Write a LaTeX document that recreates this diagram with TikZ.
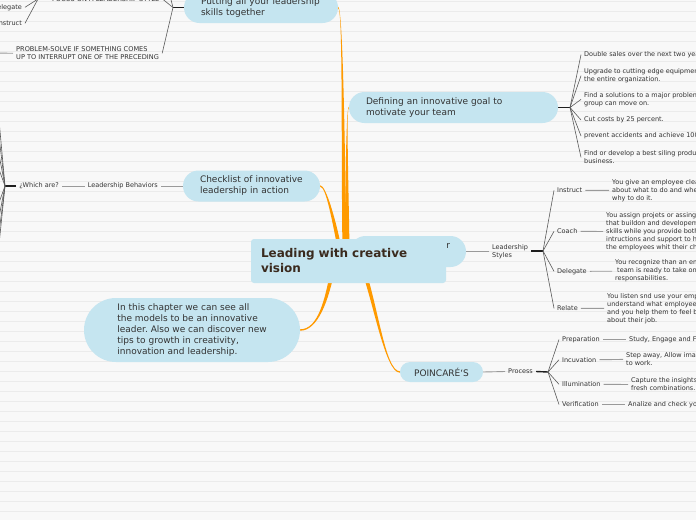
\documentclass[tikz,border=0pt]{standalone}
\usepackage{fontspec}
\setmainfont{DejaVu Sans}
\usetikzlibrary{calc}
\pgfdeclarelayer{back}
\pgfsetlayers{back,main}
\definecolor{pillblue}{HTML}{C5E5F0}
\definecolor{orangec}{HTML}{FF9A00}
\definecolor{txt}{HTML}{333333}
\definecolor{ctrtxt}{HTML}{3A2A1E}
\definecolor{bgc}{HTML}{F8F8F8}
\definecolor{rulec}{HTML}{EBEBEB}
\definecolor{grayln}{HTML}{9A9A9A}
\definecolor{fanln}{HTML}{5A5A5A}
\definecolor{thickln}{HTML}{1E1E1E}
\newcommand\orangelink[6]{\fill[orangec] ($#1+#5$) .. controls ($#2+#5$) and ($#3+#6$) .. ($#4+#6$) -- ($#4-#6$) .. controls ($#3-#6$) and ($#2-#5$) .. ($#1-#5$) -- cycle;}
\frenchspacing
\begin{document}
\frenchspacing
\begin{tikzpicture}[x=1pt,y=-1pt,
  pill/.style={fill=pillblue, draw=none, text=txt, font=\fontsize{9}{11}\selectfont\frenchspacing, align=left, inner ysep=0pt, inner xsep=17pt},
  lbl/.style={font=\fontsize{6.5}{8}\selectfont\frenchspacing, text=txt, inner xsep=3pt, inner ysep=1pt, align=left},
  caps/.style={lbl, font=\fontsize{6.6}{8}\selectfont},
  graylink/.style={draw=grayln, line width=0.9pt},
  fanlink/.style={draw=fanln, line width=0.6pt},
  thicklink/.style={draw=thickln, line width=1.4pt}]
\useasboundingbox (0,0) rectangle (696,520);

% ---------- main pills ----------
\node[pill, text width=120pt, minimum height=31pt, rounded corners=15.5pt] (put) at (261,7.5) {Putting all your leadership\\skills together};
\node[pill, text width=175pt, minimum height=31pt, rounded corners=15.5pt] (def) at (453.5,107.5) {Defining an innovative goal to\\motivate your team};
\node[pill, text width=103pt, minimum height=31pt, rounded corners=15.5pt] (chk) at (251.5,186) {Checklist of innovative\\leadership in action};
\node[pill, font=\fontsize{9}{11.2}\selectfont\frenchspacing, inner xsep=0pt, minimum width=216pt, minimum height=64pt, rounded corners=32pt] (chap) at (192,330) {In this chapter we can see all\\the models to be an innovative\\leader. Also we can discover new\\tips to growth in creativity,\\innovation and leadership.};
\node[pill, inner xsep=0pt, align=center, minimum width=83pt, minimum height=20pt, rounded corners=10pt] (poin) at (441.5,372) {POINCARÉ\char"60 S};
\node[pill, inner xsep=16pt, text width=84pt, align=right, minimum height=31pt, rounded corners=15.5pt] (rnode) at (408,251.5) {r\\\phantom{r}};
\node[fill=pillblue, draw=none, rounded corners=3pt, text=ctrtxt, font=\bfseries\fontsize{12}{15}\selectfont, align=left, inner xsep=10pt, inner ysep=0pt, text width=175pt, minimum height=44pt] (ctr) at (348.5,261) {Leading with creative\\vision};

% hub points under the central node
\coordinate (hub1) at ($(ctr)+(-4,-8)$);
\coordinate (hub2) at ($(ctr)+(-1,-8)$);
\coordinate (hub3) at ($(ctr)+(-8,-8)$);
\coordinate (hub4) at ($(ctr)+(-15.5,7)$);
\coordinate (hub5) at ($(ctr)+(13.5,5)$);

% ---------- top-left (Putting all...) ----------
\node[caps, anchor=west] (focus) at (49,-1) {FOCUS ON A LEADERSHIP STYLE};
\node[lbl, anchor=east] (deleg0) at (25,7.3) {Delegate};
\node[lbl, anchor=east] (instr0) at (25,23.3) {Instruct};
\node[caps, anchor=west] (prob) at (13,53.3) {PROBLEM-SOLVE IF SOMETHING COMES\\UP TO INTERRUPT ONE OF THE PRECEDING};
\coordinate (jput) at (173,7.5);
\coordinate (offtop) at (168,-12);
\coordinate (jfoc) at (38,-1);
\coordinate (probleft) at (-4,53);

% ---------- Defining children ----------
\coordinate (jdef) at (570,107.5);
\node[lbl, anchor=west] (d1) at (581,54.7) {Double sales over the next two years.};
\node[lbl, anchor=west] (d2) at (581,75.7) {Upgrade to cutting edge equipment for\\the entire organization.};
\node[lbl, anchor=west] (d3) at (581,99.4) {Find a solutions to a major problem so the\\group can move on.};
\node[lbl, anchor=west] (d4) at (581,120) {Cut costs by 25 percent.};
\node[lbl, anchor=west] (d5) at (581,136) {prevent accidents and achieve 100\% safety.};
\node[lbl, anchor=west] (d6) at (581,157.4) {Find or develop a best siling product for the\\business.};

% ---------- Leadership Styles ----------
\node[lbl, anchor=west] (lsty) at (489,251.5) {Leadership\\Styles};
\coordinate (jsty) at (543,251);
\node[lbl, anchor=west] (s1) at (554,190.3) {Instruct};
\node[lbl, anchor=west] (s2) at (554,231.3) {Coach};
\node[lbl, anchor=west] (s3) at (554,271.3) {Delegate};
\node[lbl, anchor=west] (s4) at (554,308.3) {Relate};
\node[lbl, anchor=west] (ds1) at (609,190.4) {You give an employee clear instructions\\about what to do and when and\\why to do it.};
\node[lbl, anchor=west] (ds2) at (603,231.5) {You assign projets or assingments\\that buildon and developement\\skills while you provide both\\intructions and support to help\\the employees whit their challenges.};
\node[lbl, anchor=west] (ds3) at (612,271.2) {You recognize than an employee or\\\hspace{2pt}team is ready to take on\\responsabilities.};
\node[lbl, anchor=west] (ds4) at (604,308.4) {You listen snd use your employees ideas\\understand what employees\\and you help them to feel better\\about their job.};

% ---------- Process ----------
\node[lbl, anchor=west] (proc) at (505,371.5) {Process};
\coordinate (jproc) at (548,372);
\node[lbl, anchor=west] (p1) at (559,339.5) {Preparation};
\node[lbl, anchor=west] (p2) at (559,359.7) {Incuvation};
\node[lbl, anchor=west] (p3) at (559,384.3) {Illumination};
\node[lbl, anchor=west] (p4) at (559,404.5) {Verification};
\node[lbl, anchor=west] (dp1) at (626,339.5) {Study, Engage and Focus};
\node[lbl, anchor=west] (dp2) at (623,359.4) {Step away, Allow imagination\\to work.};
\node[lbl, anchor=west] (dp3) at (628,384.5) {Capture the insights\\fresh combinations.};
\node[lbl, anchor=west] (dp4) at (625,404.5) {Analize and check your ideas};

% ---------- Checklist branch ----------
\node[lbl, anchor=east] (lbeh) at (161,186) {Leadership Behaviors};
\node[lbl, anchor=east] (which) at (62,186) {¿Which are?};
\coordinate (jwh) at (5,186);
\coordinate (w1) at (-8,43);
\coordinate (w2) at (-8,80);
\coordinate (w3) at (-8,118);
\coordinate (w4) at (-8,150);
\coordinate (w5) at (-8,222);
\coordinate (w6) at (-8,254);
\coordinate (w7) at (-8,287);
\coordinate (w8) at (-8,313);

\begin{pgfonlayer}{back}
  \fill[bgc] (0,0) rectangle (696,520);
  \foreach \k in {0,...,51} \draw[rulec, line width=0.7pt] (0,{10*\k+1}) -- (696,{10*\k+1});

  % orange main links
  \orangelink{(put.east)}{(343,9)}{(343,150)}{(hub1)}{(0,-0.7)}{(2,0)}
  \orangelink{(def.west)}{(346,108)}{(347,200)}{(hub2)}{(0,-0.7)}{(-2,0)}
  \orangelink{(chk.east)}{(326,186)}{(334,220)}{(hub3)}{(0,-0.7)}{(2,0)}
  \orangelink{(chap.east)}{(318,330)}{(327,300)}{(hub4)}{(0,0.7)}{(2,0)}
  \orangelink{(poin.west)}{(385,372)}{(375,300)}{(hub5)}{(0,0.7)}{(-2,0)}

  % top-left
  \draw[thicklink] (put.west) -- (jput);
  \draw[fanlink] (jput) -- (focus.east);
  \draw[fanlink] (jput) -- (offtop);
  \draw[fanlink] (jput) -- (prob.east);
  \draw[thicklink] (focus.west) -- (jfoc);
  \draw[fanlink] (jfoc) -- (deleg0.east);
  \draw[fanlink] (jfoc) -- (instr0.east);
  \draw[graylink] (prob.west) -- (probleft);

  % defining
  \draw[thicklink] (def.east) -- (jdef);
  \foreach \n in {d1,d2,d3,d4,d5,d6} \draw[fanlink] (jdef) -- (\n.west);

  % styles
  \draw[graylink] (rnode.east) -- (lsty.west);
  \draw[thicklink] (lsty.east |- jsty) -- (jsty);
  \foreach \n in {s1,s2,s3,s4} \draw[fanlink] (jsty) -- (\n.west);
  \draw[graylink] (s1.east) -- (ds1.west);
  \draw[graylink] (s2.east) -- (ds2.west);
  \draw[graylink] (s3.east) -- (ds3.west);
  \draw[graylink] (s4.east) -- (ds4.west);

  % process
  \draw[graylink] (poin.east) -- (proc.west);
  \draw[thicklink] (proc.east) -- (jproc);
  \foreach \n in {p1,p2,p3,p4} \draw[fanlink] (jproc) -- (\n.west);
  \draw[graylink] (p1.east) -- (dp1.west);
  \draw[graylink] (p2.east) -- (dp2.west);
  \draw[graylink] (p3.east) -- (dp3.west);
  \draw[graylink] (p4.east) -- (dp4.west);

  % checklist
  \draw[graylink] (chk.west) -- (lbeh.east);
  \draw[graylink] (lbeh.west) -- (which.east);
  \draw[thicklink] (which.west) -- (jwh);
  \foreach \n in {w1,w2,w3,w4,w5,w6,w7,w8} \draw[fanlink] (jwh) -- (\n);
\end{pgfonlayer}
\end{tikzpicture}
\end{document}
